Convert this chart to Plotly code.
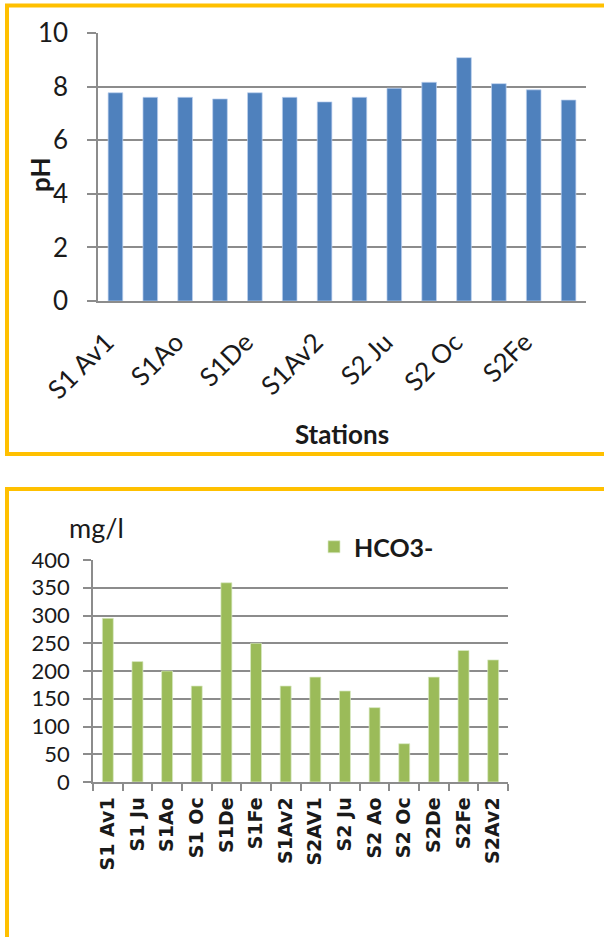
import plotly.graph_objects as go

# Sampling stations (same order in both panels)
stations = ["S1 Av1", "S1 Ju", "S1Ao", "S1 Oc", "S1De", "S1Fe", "S1Av2",
            "S2AV1", "S2 Ju", "S2 Ao", "S2 Oc", "S2De", "S2Fe", "S2Av2"]

# pH per station
ph_values = [7.77, 7.6, 7.6, 7.54, 7.77, 7.6, 7.43, 7.6, 7.94, 8.16, 9.08, 8.11, 7.88, 7.5]

# Bicarbonate concentration (mg/l)
hco3_values = [295, 217, 200, 173, 359, 250, 173, 189, 164, 134, 69, 189, 237, 220]

# Tick labels shown on the pH panel (every second station)
ph_tick_labels = stations[::2]

W, H = 604, 937
GOLD = "#FFC000"
GRID = "#8C8C8C"
TXT = "#1a1a1a"


def px(x):
    return x / W


def py(y):
    return 1 - y / H


fig = go.Figure()

fig.add_trace(go.Bar(
    x=stations, y=ph_values, width=0.42,
    marker=dict(color="#4F81BD", line=dict(color="rgba(190,210,240,0.7)", width=1)),
    xaxis="x", yaxis="y", showlegend=False, name="pH",
))

fig.add_trace(go.Bar(
    x=stations, y=hco3_values, width=0.37,
    marker=dict(color="#9BBB59", line=dict(color="rgba(220,235,200,0.7)", width=1)),
    xaxis="x2", yaxis="y2", showlegend=True, name="HCO3-",
))

# panel frames (open on the right / bottom where the page cuts them)
frames = [
    dict(x0=7, y0=5.5, x1=650, y1=454),
    dict(x0=7, y0=489, x1=650, y1=1000),
]
shapes = [
    dict(type="rect", xref="paper", yref="paper",
         x0=px(f["x0"]), x1=px(f["x1"]), y0=py(f["y0"]), y1=py(f["y1"]),
         line=dict(color=GOLD, width=4), fillcolor="rgba(0,0,0,0)", layer="below")
    for f in frames
]

fig.update_layout(
    width=W, height=H,
    margin=dict(l=0, r=0, t=0, b=0),
    paper_bgcolor="white", plot_bgcolor="white",
    font=dict(family="Lato", color=TXT),
    bargap=0.5,
    shapes=shapes,
    showlegend=True,
    legend=dict(
        x=px(314), y=py(547), xanchor="left", yanchor="middle",
        font=dict(family="Lato", size=25, color=TXT, weight="bold"),
        bgcolor="rgba(0,0,0,0)",
    ),
    xaxis=dict(
        domain=[px(98), px(586)], anchor="y",
        type="category",
        tickmode="array", tickvals=ph_tick_labels, ticktext=ph_tick_labels,
        tickangle=-45, ticks="",
        ticklabelstandoff=14, ticklabelshift=-9,
        tickfont=dict(family="Lato", size=26, color=TXT),
        showline=True, linecolor=GRID, linewidth=1.5,
        showgrid=False,
        title=dict(text="<b>Stations</b>", font=dict(family="Lato", size=26, color=TXT), standoff=22),
        automargin=False,
    ),
    yaxis=dict(
        domain=[py(301), py(33)], anchor="x",
        range=[0, 10], dtick=2,
        ticks="outside", ticklen=9, tickcolor=GRID, tickwidth=1.5,
        ticklabelstandoff=14,
        tickfont=dict(family="Lato", size=26, color=TXT),
        showline=True, linecolor=GRID, linewidth=1.5,
        showgrid=True, gridcolor=GRID, gridwidth=1.5,
        zeroline=False,
        automargin=False,
    ),
    xaxis2=dict(
        domain=[px(93), px(508)], anchor="y2",
        type="category",
        tickangle=-90,
        ticks="outside", ticklen=7, tickcolor=GRID, tickwidth=1.5,
        tickson="boundaries",
        ticklabelstandoff=6,
        tickfont=dict(family="DejaVu Sans", size=19, color=TXT, weight="bold"),
        showline=True, linecolor=GRID, linewidth=1.5,
        showgrid=False,
        automargin=False,
    ),
    yaxis2=dict(
        domain=[py(782), py(560)], anchor="x2",
        range=[0, 400], dtick=50,
        ticks="outside", ticklen=8, tickcolor=GRID, tickwidth=1.5,
        ticklabelstandoff=9,
        tickfont=dict(family="Lato", size=22, color=TXT),
        showline=True, linecolor=GRID, linewidth=1.5,
        showgrid=True, gridcolor=GRID, gridwidth=1.5,
        zeroline=False,
        automargin=False,
    ),
    annotations=[
        # y-axis title of the pH panel
        dict(text="<b>pH</b>", xref="paper", yref="paper", x=px(40), y=py(175),
             xanchor="center", yanchor="middle", textangle=-90, showarrow=False,
             font=dict(family="Lato", size=26, color=TXT)),
        # unit label above the HCO3- axis
        dict(text="mg/l", xref="paper", yref="paper", x=px(97), y=py(527),
             xanchor="center", yanchor="middle", showarrow=False,
             font=dict(family="Lato", size=27, color=TXT)),
    ],
)

fig.write_html("out.html")
